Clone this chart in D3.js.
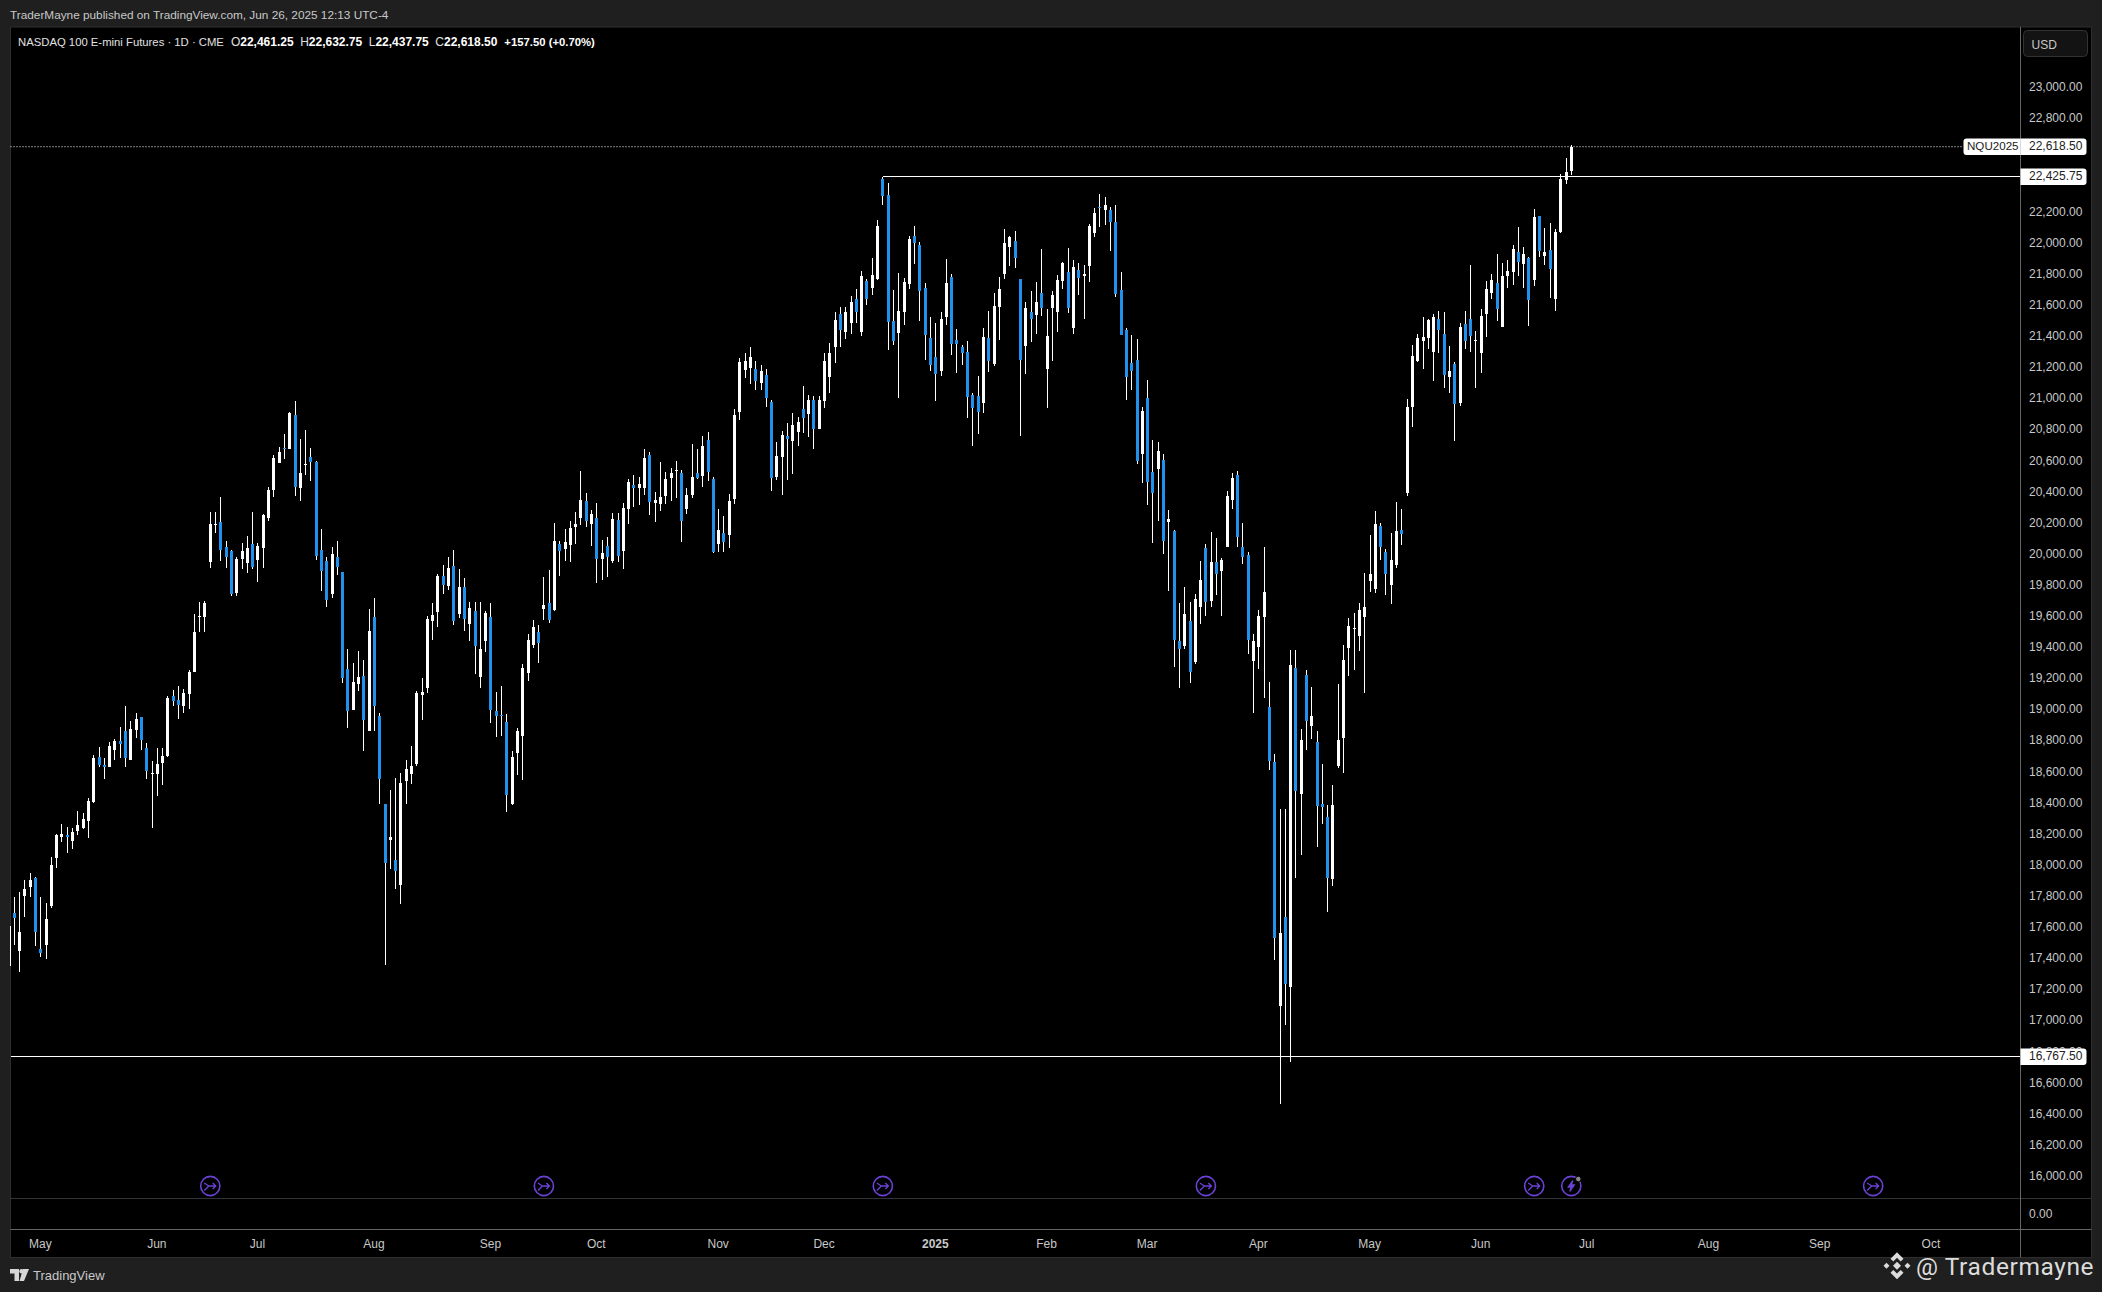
<!DOCTYPE html>
<html>
<head>
<meta charset="utf-8">
<script src="https://cdn.jsdelivr.net/npm/d3@7"></script>
<style>
  html, body { margin: 0; padding: 0; background: #1f1f1f; overflow: hidden; }
  text { font-family: "Liberation Sans", sans-serif; }
</style>
</head>
<body>
<div id="chart"></div>
<script>
// NQU2025 daily bars. Dates are bar counts, so no weekend gaps.
const highs = [
  17611,17796,17829,17906,17951,17926,17796,17758,18053,18200,
  18266,18246,18241,18350,18335,18432,18709,18760,18691,18793,
  18813,18889,19024,18928,18978,18953,18785,18671,18755,18755,
  19088,19128,19154,19133,19255,19617,19693,19700,20272,20272,
  20369,20084,20028,19983,20072,20117,20272,20072,20260,20433,
  20639,20689,20773,20916,20982,20738,20799,20684,20600,20163,
  19980,20046,20084,19886,19390,19301,19378,19319,19647,19718,
  18978,18394,18485,18561,18594,18676,18767,19121,19202,19604,
  19688,19873,19931,19982,20027,19905,19847,19693,19693,19693,
  19635,19687,19114,19153,18973,18735,18883,19294,19487,19577,
  19545,19854,19899,20201,20085,20162,20214,20272,20535,20394,
  20282,20330,20092,20111,20265,20265,20330,20484,20510,20497,
  20677,20657,20400,20593,20529,20555,20600,20542,20426,20709,
  20677,20760,20786,20497,20291,20246,20387,20934,21260,21290,
  21330,21240,21215,21190,20990,20722,20793,20844,20908,20883,
  21082,21024,21018,21018,21295,21355,21554,21590,21590,21658,
  21701,21821,21770,21905,22149,22426,22387,21699,21808,21776,
  22046,22111,22008,21744,21526,21487,21558,21898,21802,21448,
  21346,21371,21037,21146,21455,21564,21680,21783,22091,22046,
  22078,21770,21622,21693,21751,21963,21577,21693,21796,21879,
  21969,21892,21873,21860,22124,22226,22316,22297,22233,22246,
  21815,21455,21410,21384,20947,21120,20735,20722,20645,20285,
  20156,19687,19790,19693,19745,19957,20066,20143,20105,19976,
  20407,20523,20535,20201,20015,19487,19642,20047,19179,18716,
  18362,18362,19385,19385,18877,19256,19147,18864,18652,18388,
  18516,19166,19417,19590,19622,19687,19880,20124,20278,20201,
  20034,20137,20336,20291,20998,21346,21416,21526,21513,21545,
  21564,21558,21339,21236,21487,21564,21860,21436,21577,21757,
  21802,21931,21873,21892,21989,22104,21976,21911,22220,22175,
  22098,22130,22091,22445,22548,22632.75
];
const lows = [
  17351,17483,17310,17669,17796,17478,17407,17394,17722,17984,
  18150,18076,18104,18190,18231,18172,18396,18633,18551,18628,
  18678,18686,18628,18678,18818,18742,18551,18241,18442,18513,
  18696,19022,18940,18976,19001,19238,19500,19500,19909,20133,
  19957,19911,19733,19728,19901,19876,19906,19817,19911,20209,
  20364,20583,20613,20677,20374,20339,20506,20468,19962,19759,
  19657,19718,19868,19172,18882,18999,19116,18732,18864,18859,
  18391,17356,17972,17844,17748,18391,18518,18635,18930,19103,
  19449,19528,19745,19770,19545,19590,19507,19442,19230,19140,
  19372,18915,18825,18831,18343,18388,18581,18549,19185,19397,
  19301,19577,19558,19635,19860,19957,19950,20066,20188,20175,
  20053,19815,19835,19854,19944,19950,19905,20195,20304,20317,
  20381,20252,20207,20278,20323,20342,20362,20079,20259,20362,
  20484,20432,20471,20008,20015,20015,20040,20323,20863,21130,
  21095,21056,21056,20947,20407,20477,20381,20477,20516,20696,
  20780,20754,20677,20805,20940,21035,21226,21330,21381,21416,
  21485,21403,21603,21667,21763,22246,21313,21346,21005,21474,
  21706,21866,21500,21249,21178,20985,21146,21474,21281,21166,
  21217,20876,20696,20773,20908,21172,21211,21378,21770,21853,
  21841,20760,21159,21365,21416,21532,20941,21243,21429,21706,
  21551,21416,21667,21513,21751,22040,22104,22117,21950,21654,
  21410,20992,21056,20580,20458,20317,20072,20214,20002,19764,
  19275,19140,19391,19172,19295,19552,19603,19661,19738,19603,
  20047,20291,20047,19938,19359,18980,19262,19076,18613,17391,
  16465,16973,16736,17919,18066,18742,18812,18118,18266,17700,
  17867,18626,18594,19217,19256,19378,19108,19757,19751,19963,
  19738,19680,19912,20060,20375,20818,21236,21191,21320,21114,
  21294,21069,21037,20728,20953,21320,21300,21069,21166,21397,
  21641,21500,21461,21712,21731,21789,21712,21468,21725,21911,
  21860,21648,21564,22066,22381,22437.75
];
const opens = [
  17351,17689,17450,17804,17860,17916,17463,17483,17738,18043,
  18183,18195,18157,18221,18236,18282,18406,18696,18645,18628,
  18742,18800,18864,18678,18869,18953,18755,18587,18587,18658,
  18704,19088,19062,19022,19100,19243,19596,19596,19950,20189,
  20206,20046,20016,19751,19970,19939,20067,19962,20041,20234,
  20412,20588,20684,20677,20895,20425,20575,20626,20593,20028,
  19957,19744,19983,19886,19263,18999,19167,19217,18864,19596,
  18961,18394,18162,18035,17870,18541,18587,18648,19095,19141,
  19566,19624,19860,19796,19925,19616,19789,19552,19635,19211,
  19442,19597,18992,18967,18922,18394,18722,18831,19237,19417,
  19500,19648,19687,19642,20066,20034,20060,20175,20233,20342,
  20195,20233,19970,20053,19957,20220,20021,20291,20445,20426,
  20426,20638,20330,20323,20375,20490,20535,20522,20291,20381,
  20522,20503,20735,20484,20066,20137,20124,20355,20915,21180,
  21195,21190,21100,21150,20979,20497,20625,20760,20728,20786,
  20934,20902,20992,20805,20985,21140,21330,21546,21425,21485,
  21640,21429,21757,21712,21770,22413,22310,21500,21423,21558,
  21738,22046,21988,21712,21391,21268,21178,21526,21783,21378,
  21333,21301,21024,21018,20973,21391,21223,21590,21802,21976,
  22014,21770,21339,21558,21538,21680,21191,21583,21558,21757,
  21815,21455,21828,21789,21853,22066,22233,22214,22214,22136,
  21699,21442,21230,21249,20645,21005,20529,20548,20606,20208,
  20150,19442,19410,19571,19307,19661,20040,19700,19950,19892,
  20047,20349,20510,20047,19995,19314,19404,19597,19018,18664,
  17096,17668,17218,19269,18459,19224,18896,18793,18394,18311,
  17912,18639,18819,19397,19520,19475,19597,19828,19777,20182,
  20015,19802,19931,20156,20394,20947,21243,21371,21391,21301,
  21513,21416,21140,21223,20973,21481,21513,21371,21294,21545,
  21680,21744,21461,21789,21815,21943,21866,21905,21763,22175,
  21918,21956,21641,22072,22406,22461.25
];
const closes = [
  17611,17661,17572,17847,17906,17567,17435,17654,18002,18195,
  18200,18183,18213,18259,18297,18414,18691,18645,18633,18767,
  18800,18780,18691,18877,18940,18803,18602,18594,18648,18704,
  19075,19057,19032,19108,19243,19500,19604,19688,20194,20194,
  20028,19978,19741,19970,20016,20041,19919,20054,20252,20412,
  20618,20656,20677,20906,20433,20522,20580,20593,19988,19891,
  19706,20000,19919,19200,18989,19179,19210,18930,19507,19022,
  18551,18010,18183,17964,18528,18620,18638,19108,19113,19583,
  19609,19861,19802,19912,19571,19789,19584,19654,19410,19391,
  19622,18999,18960,18960,18452,18697,18864,19269,19449,19532,
  19429,19674,19577,20085,20021,20079,20169,20195,20349,20214,
  20259,19970,20008,19982,20227,19989,20298,20465,20426,20452,
  20619,20336,20349,20368,20484,20522,20542,20214,20381,20497,
  20490,20696,20529,20012,20156,20079,20342,20895,21235,21240,
  21265,21110,21175,21005,20490,20632,20767,20741,20831,20850,
  20876,20992,20805,20992,21243,21295,21502,21442,21554,21623,
  21554,21789,21641,21796,22111,22304,21493,21371,21564,21751,
  22027,22001,21693,21410,21217,21159,21513,21744,21352,21352,
  21294,21011,20940,20915,21397,21243,21596,21706,22001,22040,
  21905,21249,21583,21513,21622,21583,21403,21667,21763,21873,
  21583,21847,21776,21802,22111,22194,22226,22246,22136,21673,
  21410,21140,21178,20600,20921,20465,20394,20664,20085,20227,
  19449,19391,19616,19243,19712,19835,19693,19950,19873,19963,
  20375,20490,20111,19983,19449,19442,19603,19757,18671,17533,
  17565,17237,19288,18478,18806,18928,18960,18382,18375,17919,
  18388,18806,19320,19539,19526,19642,19661,19873,20195,20047,
  19873,19963,20150,20130,20947,21275,21391,21397,21506,21526,
  21442,21153,21178,20966,21461,21371,21403,21378,21532,21706,
  21764,21577,21789,21821,21963,21879,21931,21635,22169,21950,
  21943,21834,22072,22413,22458,22618.5
];

// 22,600 and 22,400 sit under the price labels, so they are left out
const priceTicks = [
  16000,16200,16400,16600,16800,17000,17200,17400,17600,17800,18000,18200,
  18400,18600,18800,19000,19200,19400,19600,19800,20000,20200,20400,20600,
  20800,21000,21200,21400,21600,21800,22000,22200,22800,23000
];
const monthBars = [6, 28, 47, 69, 91, 111, 134, 154, 175, 196, 215, 236, 257, 278, 298, 321, 342, 363];
const monthLabels = ['May', 'Jun', 'Jul', 'Aug', 'Sep', 'Oct', 'Nov', 'Dec', '2025', 'Feb', 'Mar', 'Apr', 'May', 'Jun', 'Jul', 'Aug', 'Sep', 'Oct'];
const eventBars = [38, 101, 165, 226, 288, 352];
const earningsBars = [295];

const lastPrice = 22618.5;
const resistance = 22425.75;
const resistanceStartBar = 165;
const support = 16767.5;

const dims = {width: 2102, height: 1292, left: 10.5, top: 27, right: 2020.5, pane: 1198.5, axis: 1229.5, bottom: 1257.5, outer: 2091.5};

const svg = d3.select('#chart')
  .append('svg')
  .attr('width', dims.width)
  .attr('height', dims.height)
  .style('display', 'block');

const x = d3.scaleLinear().domain([0, 295]).range([9.03, 1571.3]);
const y = d3.scaleLinear().domain([23000, 16000]).range([87.4, 1176.1]);
const fmt = d3.format(',.2f');

// panel
svg.append('rect')
  .attr('x', dims.left).attr('y', dims.top)
  .attr('width', dims.outer - dims.left).attr('height', dims.bottom - dims.top)
  .attr('fill', '#000').attr('stroke', '#2e2e2e');

svg.append('defs').append('clipPath').attr('id', 'plot')
  .append('rect')
  .attr('x', dims.left - 0.5).attr('y', dims.top)
  .attr('width', dims.right - dims.left + 0.5).attr('height', dims.pane - dims.top);

const plot = svg.append('g').attr('clip-path', 'url(#plot)');

// level lines
plot.append('line')
  .attr('x1', dims.left).attr('x2', 1963)
  .attr('y1', y(lastPrice)).attr('y2', y(lastPrice))
  .attr('stroke', '#fff').attr('stroke-dasharray', '1 2');

// candles
const bars = plot.append('g').attr('shape-rendering', 'crispEdges');
bars.selectAll('rect.wick')
  .data(d3.range(highs.length))
  .enter().append('rect')
  .attr('class', 'wick')
  .attr('x', d => Math.floor(x(d)))
  .attr('width', 1)
  .attr('y', d => y(highs[d]))
  .attr('height', d => y(lows[d]) - y(highs[d]))
  .attr('fill', '#fff');

bars.selectAll('rect.body')
  .data(d3.range(highs.length))
  .enter().append('rect')
  .attr('class', 'body')
  .attr('x', d => Math.floor(x(d)) - 1)
  .attr('width', 3)
  .attr('y', d => y(Math.max(opens[d], closes[d])))
  .attr('height', d => Math.max(1, y(Math.min(opens[d], closes[d])) - y(Math.max(opens[d], closes[d]))))
  .attr('fill', d => closes[d] < opens[d] ? '#2092ee' : '#fff');

plot.append('line')
  .attr('x1', x(resistanceStartBar)).attr('x2', dims.right)
  .attr('y1', y(resistance)).attr('y2', y(resistance))
  .attr('stroke', '#fff').attr('shape-rendering', 'crispEdges');
plot.append('line')
  .attr('x1', dims.left).attr('x2', dims.right)
  .attr('y1', y(support)).attr('y2', y(support))
  .attr('stroke', '#fff').attr('shape-rendering', 'crispEdges');

// event markers
const iconColor = '#6a42d6';
const events = svg.append('g').selectAll('g')
  .data(eventBars.concat(earningsBars))
  .enter().append('g')
  .attr('transform', d => `translate(${x(d)},1186)`);
events.append('circle')
  .attr('r', 9.6).attr('fill', 'none').attr('stroke', iconColor).attr('stroke-width', 1.6);
events.append('path')
  .attr('d', d => earningsBars.includes(d)
    ? 'M1.5,-5.5 L-3,1 L0,1 L-1.5,5.5 L3,-1 L0,-1 Z'
    : 'M-6,-3 L-1.5,0 L-6,4.5 M-1.5,0 H5.5 M2.5,-3 L5.5,0 L2.5,3')
  .attr('fill', d => earningsBars.includes(d) ? iconColor : 'none')
  .attr('stroke', iconColor).attr('stroke-width', 1.3);
events.filter(d => earningsBars.includes(d)).append('circle')
  .attr('cx', 7).attr('cy', -7).attr('r', 2.8)
  .attr('fill', '#8a8a8a').attr('stroke', '#000');

// pane separators
svg.append('line')
  .attr('x1', dims.left).attr('x2', dims.outer)
  .attr('y1', dims.pane).attr('y2', dims.pane)
  .attr('stroke', '#333');

// price axis
const yAxis = d3.axisRight(y).tickValues(priceTicks).tickFormat(fmt).tickSize(0).tickPadding(0);
const yAxisG = svg.append('g')
  .attr('transform', 'translate(2029,-0.5)')
  .call(yAxis);
yAxisG.select('.domain').remove();
yAxisG.selectAll('text').attr('fill', '#c8c8c8').attr('font-size', 12);

svg.append('text').text('0.00')
  .attr('x', 2029).attr('y', 1218)
  .attr('fill', '#c8c8c8').attr('font-size', 12);

svg.append('line')
  .attr('x1', dims.right).attr('x2', dims.right)
  .attr('y1', dims.top).attr('y2', dims.bottom)
  .attr('stroke', '#666');

// time axis
const xAxis = d3.axisBottom(x)
  .tickValues(monthBars)
  .tickFormat((d, i) => monthLabels[i])
  .tickSize(0).tickPadding(0);
const xAxisG = svg.append('g')
  .attr('transform', `translate(-1,${dims.axis + 9.5})`)
  .call(xAxis);
xAxisG.select('.domain').remove();
xAxisG.selectAll('text')
  .attr('fill', '#c8c8c8').attr('font-size', 12)
  .attr('font-weight', (d, i) => monthLabels[i] === '2025' ? 700 : 400);

svg.append('line')
  .attr('x1', dims.left).attr('x2', dims.outer)
  .attr('y1', dims.axis).attr('y2', dims.axis)
  .attr('stroke', '#666');

// price labels
const priceLabel = (value, tag) => {
  svg.append('path')
    .attr('d', `M${dims.right},${y(value) - 8.3} h63 q3,0 3,3 v10.6 q0,3 -3,3 h-63 Z`)
    .attr('fill', '#fff');
  svg.append('text').text(fmt(value))
    .attr('x', 2029).attr('y', y(value) + 3.6)
    .attr('fill', '#222').attr('font-size', 12);
  if (tag) {
    svg.append('path')
      .attr('d', `M${dims.right},${y(value) - 8.3} h-54 q-3,0 -3,3 v10.6 q0,3 3,3 h54 Z`)
      .attr('fill', '#fff');
    svg.append('text').text(tag)
      .attr('x', 1967).attr('y', y(value) + 3.6)
      .attr('fill', '#222').attr('font-size', 11.6);
  }
};
priceLabel(lastPrice, 'NQU2025');
priceLabel(resistance);
priceLabel(support);

// currency box
svg.append('rect')
  .attr('x', 2023.5).attr('y', 30.5).attr('width', 64).attr('height', 26).attr('rx', 4)
  .attr('fill', '#131313').attr('stroke', '#333');
svg.append('text').text('USD')
  .attr('x', 2031.5).attr('y', 48.5)
  .attr('fill', '#c8c8c8').attr('font-size', 12);

// header
svg.append('text').text('TraderMayne published on TradingView.com, Jun 26, 2025 12:13 UTC-4')
  .attr('x', 10).attr('y', 19)
  .attr('fill', '#c8c8c8').attr('font-size', 11.8);

const legend = svg.append('text').attr('x', 18).attr('y', 46).attr('font-size', 11.3).attr('fill', '#e0e0e0');
legend.append('tspan').text('NASDAQ 100 E-mini Futures · 1D · CME');
[['O', opens], ['H', highs], ['L', lows], ['C', closes]].forEach(([key, series]) => {
  legend.append('tspan').text(key).attr('dx', key === 'O' ? 7 : 6.5).attr('font-size', 12);
  legend.append('tspan').text(fmt(series[series.length - 1])).attr('fill', '#fff').attr('font-weight', 700).attr('font-size', 12);
});
legend.append('tspan').text('+157.50 (+0.70%)').attr('dx', 7).attr('fill', '#fff').attr('font-weight', 700);

// footer
svg.append('path')
  .attr('d', 'M10,1269 H19 V1281 H14.5 V1273.5 H10 Z M23,1269 H29 L24,1281 H19.5 Z')
  .attr('fill', '#d6d6d6');
svg.append('circle').attr('cx', 21.5).attr('cy', 1271.2).attr('r', 2.2).attr('fill', '#d6d6d6');
svg.append('text').text('TradingView')
  .attr('x', 33).attr('y', 1279.5)
  .attr('fill', '#c8c8c8').attr('font-size', 13);

// watermark
const mark = svg.append('g').attr('transform', 'translate(1897,1265.7)').attr('fill', '#dcdcdc');
mark.append('path').attr('d', 'M0,-13.5 L6.5,-7 L3.7,-4.2 L0,-7.9 L-3.7,-4.2 L-6.5,-7 Z');
mark.append('path').attr('d', 'M0,13.5 L6.5,7 L3.7,4.2 L0,7.9 L-3.7,4.2 L-6.5,7 Z');
mark.append('path').attr('d', 'M0,-4 L4,0 L0,4 L-4,0 Z');
mark.append('path').attr('d', 'M-10.5,-3 L-7.5,0 L-10.5,3 L-13.5,0 Z');
mark.append('path').attr('d', 'M10.5,-3 L13.5,0 L10.5,3 L7.5,0 Z');
svg.append('text').text('@ Tradermayne')
  .attr('x', 1916).attr('y', 1275)
  .attr('fill', '#dcdcdc').attr('font-size', 24.5)
  .style('font-family', 'Roboto, sans-serif')
  .style('letter-spacing', '0.6px');
</script>
</body>
</html>
